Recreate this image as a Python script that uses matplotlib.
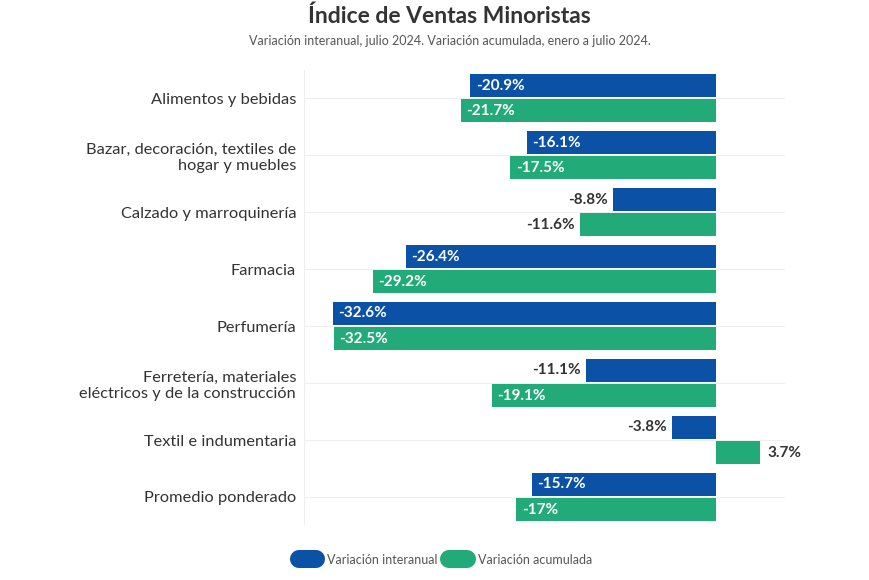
import numpy as np
import matplotlib.pyplot as plt
from matplotlib.lines import Line2D

categorias = ['Alimentos y bebidas',
              'Bazar, decoración, textiles de\nhogar y muebles',
              'Calzado y marroquinería',
              'Farmacia',
              'Perfumería',
              'Ferretería, materiales\neléctricos y de la construcción',
              'Textil e indumentaria',
              'Promedio ponderado']
interanual = [-20.9, -16.1, -8.8, -26.4, -32.6, -11.1, -3.8, -15.7]
acumulada = [-21.7, -17.5, -11.6, -29.2, -32.5, -19.1, 3.7, -17.0]
etiq_inter = ['-20.9%', '-16.1%', '-8.8%', '-26.4%', '-32.6%', '-11.1%', '-3.8%', '-15.7%']
etiq_acum = ['-21.7%', '-17.5%', '-11.6%', '-29.2%', '-32.5%', '-19.1%', '3.7%', '-17%']

azul = '#0b51a6'
verde = '#22ab78'
gris = '#333333'

plt.rcParams['font.family'] = ['Lato', 'DejaVu Sans']

fig = plt.figure(figsize=(8.7, 5.8), dpi=100)
ax = fig.add_axes([0.35, 0.094, 0.552, 0.786])

y = np.arange(len(categorias))
h = 0.41
off = 0.22
ax.barh(y - off, interanual, height=h, color=azul)
ax.barh(y + off, acumulada, height=h, color=verde)

def etiquetas(vals, textos, pos):
    for v, t, yy in zip(vals, textos, pos):
        if v > 0:
            ax.text(v + 0.6, yy, t, ha='left', va='center', color=gris,
                    fontsize=11, fontweight='bold')
        elif abs(v) < 12:
            ax.text(v - 0.4, yy, t, ha='right', va='center', color=gris,
                    fontsize=11, fontweight='bold')
        else:
            ax.text(v + 0.45, yy, t, ha='left', va='center', color='white',
                    fontsize=11, fontweight='bold')

etiquetas(interanual, etiq_inter, y - off)
etiquetas(acumulada, etiq_acum, y + off)

ax.set_xlim(-35, 5.8)
ax.set_ylim(len(categorias) - 0.5, -0.5)
ax.set_yticks(y)
ax.set_yticklabels(categorias, fontsize=11.8, color=gris)
ax.tick_params(axis='y', length=0, pad=6)
ax.set_xticks([])
for s in ax.spines.values():
    s.set_visible(False)
ax.axvline(-35, color='#eeeeee', lw=0.8, zorder=0)
for yy in y:
    ax.axhline(yy, color='#eeeeee', lw=0.8, zorder=0)

fig.text(0.517, 0.972, 'Índice de Ventas Minoristas', ha='center', va='center',
         fontsize=16.5, fontweight='bold', color=gris)
fig.text(0.517, 0.93, 'Variación interanual, julio 2024. Variación acumulada, enero a julio 2024.',
         ha='center', va='center', fontsize=9, color='#555555')

handles = [Line2D([0], [0], color=azul, lw=13, solid_capstyle='round'),
           Line2D([0], [0], color=verde, lw=13, solid_capstyle='round')]
leg = fig.legend(handles, ['Variación interanual', 'Variación acumulada'],
                 loc='center', bbox_to_anchor=(0.512, 0.035), ncol=2, frameon=False,
                 fontsize=9, handlelength=1.4, handletextpad=0.9, columnspacing=0.9)
for t in leg.get_texts():
    t.set_color('#555555')

fig.savefig('out.png', dpi=100)
